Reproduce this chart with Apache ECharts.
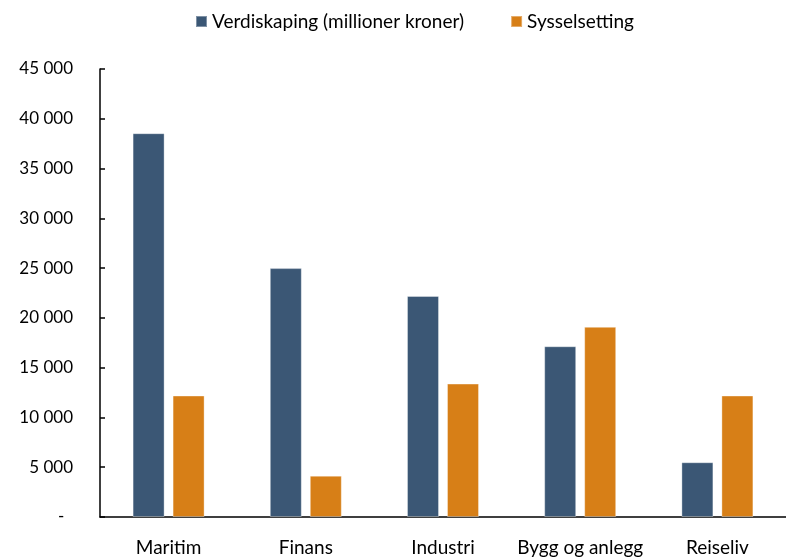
<!DOCTYPE html>
<html>
<head>
<meta charset="utf-8">
<script src="https://cdn.jsdelivr.net/npm/echarts@6/dist/echarts.min.js"></script>
<style>
  html, body { margin: 0; padding: 0; background: #fff; }
  #chart { width: 786px; height: 557px; }
</style>
</head>
<body>
<div id="chart"></div>
<script>
const categories = ['Maritim', 'Finans', 'Industri', 'Bygg og anlegg', 'Reiseliv'];
const verdiskaping = [38550, 25000, 22200, 17150, 5500];
const sysselsetting = [12200, 4150, 13400, 19100, 12200];
const seriesNames = ['Verdiskaping (millioner kroner)', 'Sysselsetting'];

const font = 'Lato';

function fmt(val) {
    if (val === 0) return '-  ';
    return String(val).replace(/\B(?=(\d{3})+(?!\d))/g, ' ');
}

const myChart = echarts.init(document.getElementById('chart'));
myChart.setOption({
    animation: false,
    textStyle: { fontFamily: font },
    legend: {
        top: 7,
        left: 190,
        itemWidth: 11,
        itemHeight: 11,
        itemGap: 46,
        icon: 'rect',
        textStyle: { fontSize: 19, color: '#000', fontFamily: font },
    },
    grid: { left: 100, right: -13, top: 69, bottom: 39 },
    xAxis: {
        type: 'category',
        data: categories,
        axisTick: { show: false },
        axisLine: { lineStyle: { color: '#000', width: 1.5 } },
        axisLabel: { color: '#000', fontSize: 19, margin: 21, interval: 0 },
    },
    yAxis: {
        type: 'value',
        min: 0,
        max: 45000,
        interval: 5000,
        splitLine: { show: false },
        axisLine: { show: true, lineStyle: { color: '#000', width: 1.5 } },
        axisTick: { show: true, inside: true, length: 5, lineStyle: { color: '#000', width: 1.5 } },
        axisLabel: { color: '#000', fontSize: 17, margin: 27, formatter: fmt },
    },
    series: [
        {
            name: seriesNames[0],
            type: 'bar',
            data: verdiskaping,
            barWidth: 32,
            barGap: '25%',
            itemStyle: { color: '#3B5775', borderColor: 'rgba(255,255,255,0.35)', borderWidth: 1 },
        },
        {
            name: seriesNames[1],
            type: 'bar',
            data: sysselsetting,
            barWidth: 32,
            barGap: '25%',
            itemStyle: { color: '#D77F17', borderColor: 'rgba(255,255,255,0.35)', borderWidth: 1 },
        },
    ],
});
</script>
</body>
</html>
